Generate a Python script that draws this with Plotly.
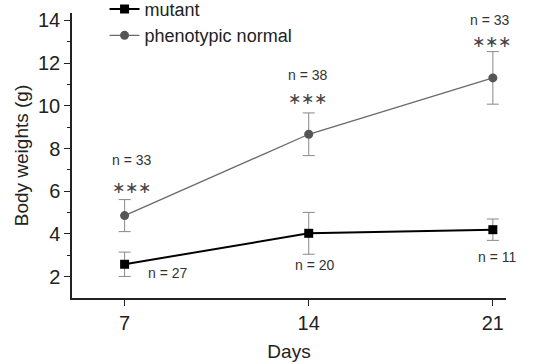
import plotly.graph_objects as go

days = [7, 14, 21]
mutant_mean = [2.58, 4.03, 4.20]
mutant_err = [0.57, 0.98, 0.50]
normal_mean = [4.86, 8.67, 11.31]
normal_err = [0.75, 1.00, 1.23]
mutant_n = ["n = 27", "n = 20", "n = 11"]
normal_n = ["n = 33", "n = 38", "n = 33"]
sig = ["∗∗∗", "∗∗∗", "∗∗∗"]

FONT = "Liberation Sans, Arial, sans-serif"

fig = go.Figure()
fig.add_trace(go.Scatter(
    x=days, y=mutant_mean, name="mutant", mode="lines+markers",
    line=dict(color="#000000", width=2),
    marker=dict(symbol="square", size=9, color="#000000"),
    error_y=dict(type="data", array=mutant_err, color="#888888", thickness=1, width=6),
    legendgroup="a",
))
fig.add_trace(go.Scatter(
    x=days, y=normal_mean, name="phenotypic normal", mode="lines+markers",
    line=dict(color="#6a6a6a", width=1.3),
    marker=dict(symbol="circle", size=9, color="#555555"),
    error_y=dict(type="data", array=normal_err, color="#888888", thickness=1, width=6),
    legendgroup="b",
))

star_shift = [(7, 12), (-1, 14), (-1, 10)]
n_shift = [(7, 40), (-1, 38), (-3, 32)]
for d, m, e, lab, s, (sx, sy), (nx, ny) in zip(days, normal_mean, normal_err, normal_n,
                                               sig, star_shift, n_shift):
    fig.add_annotation(x=d, y=m + e, text=s, showarrow=False, xshift=sx, yshift=sy,
                       font=dict(family=FONT, size=16, color="#444444"))
    fig.add_annotation(x=d, y=m + e, text=lab, showarrow=False, xshift=nx, yshift=ny,
                       font=dict(family=FONT, size=14, color="#333333"))

mutant_shift = [(43, -9), (6, -32), (4, -27)]
for d, m, lab, (dx, dy) in zip(days, mutant_mean, mutant_n, mutant_shift):
    fig.add_annotation(x=d, y=m, text=lab, showarrow=False, xshift=dx, yshift=dy,
                       font=dict(family=FONT, size=14, color="#333333"))

fig.update_layout(
    width=546, height=364,
    margin=dict(l=72, r=40, t=13, b=66, autoexpand=False),
    paper_bgcolor="white", plot_bgcolor="white",
    font=dict(family=FONT, color="#222222"),
    showlegend=True,
    legend=dict(x=0.075, y=1.078, xanchor="left", yanchor="top",
                font=dict(family=FONT, size=18, color="#222222"),
                bgcolor="rgba(0,0,0,0)", tracegroupgap=0, traceorder="grouped"),
    xaxis=dict(range=[5, 21.5], tickvals=days, ticktext=[str(d) for d in days],
               showgrid=False, zeroline=False, showline=True, linecolor="#222222",
               linewidth=1.5, ticks="outside", ticklen=6, tickcolor="#222222",
               automargin=False,
               tickfont=dict(size=20, family=FONT, color="#222222"),
               title=dict(text="Days", font=dict(size=19, family=FONT, color="#222222"),
                          standoff=12)),
    yaxis=dict(range=[1, 14.35], tickvals=[2, 4, 6, 8, 10, 12, 14],
               showgrid=False, zeroline=False, showline=True, linecolor="#222222",
               linewidth=1.5, ticks="outside", ticklen=6, tickcolor="#222222",
               automargin=False,
               minor=dict(tickvals=[3, 5, 7, 9, 11, 13], ticks="outside", ticklen=3,
                          tickcolor="#222222", showgrid=False),
               tickfont=dict(size=20, family=FONT, color="#222222"),
               title=dict(text="Body weights (g)", font=dict(size=19, family=FONT, color="#222222"),
                          standoff=4)),
)

fig.write_html("out.html", config={"displayModeBar": False},
               post_script="document.body.style.margin='0';")
